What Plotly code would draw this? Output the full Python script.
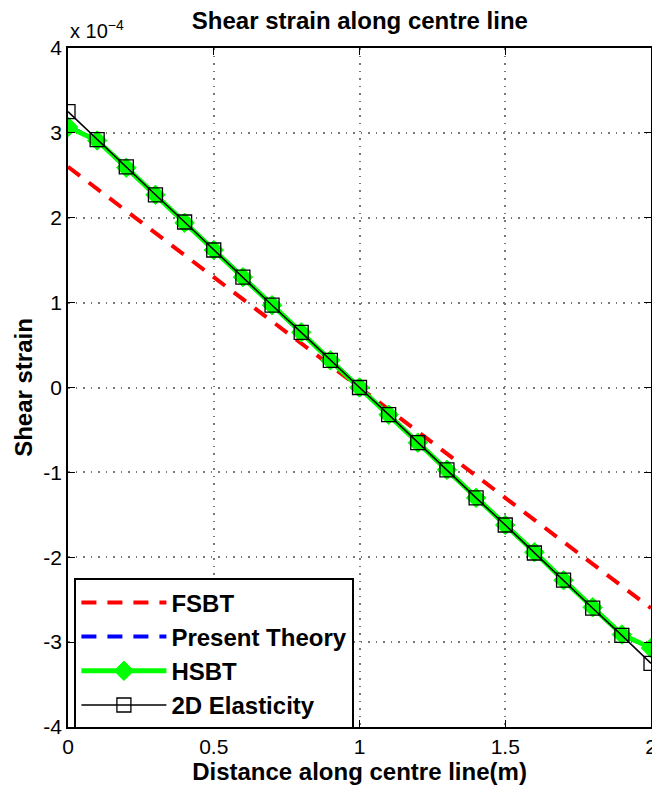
import plotly.graph_objects as go

# Position along the centre line (m)
distance = [0.0, 0.1, 0.2, 0.3, 0.4, 0.5, 0.6, 0.7, 0.8, 0.9, 1.0,
            1.1, 1.2, 1.3, 1.4, 1.5, 1.6, 1.7, 1.8, 1.9, 2.0]

# Shear strain, in units of 1e-4
fsbt = [2.60, 2.34, 2.08, 1.82, 1.56, 1.30, 1.04, 0.78, 0.52, 0.26, 0.0,
        -0.26, -0.52, -0.78, -1.04, -1.30, -1.56, -1.82, -2.08, -2.34, -2.60]
present_theory = [3.08, 2.91, 2.59, 2.27, 1.94, 1.62, 1.30, 0.97, 0.65, 0.32, 0.0,
                  -0.32, -0.65, -0.97, -1.30, -1.62, -1.94, -2.27, -2.59, -2.91, -3.08]
hsbt = [3.07, 2.91, 2.59, 2.27, 1.94, 1.62, 1.30, 0.97, 0.65, 0.32, 0.0,
        -0.32, -0.65, -0.97, -1.30, -1.62, -1.94, -2.27, -2.59, -2.91, -3.07]
elasticity_2d = [3.25, 2.92, 2.60, 2.27, 1.95, 1.62, 1.30, 0.97, 0.65, 0.32, 0.0,
                 -0.32, -0.65, -0.97, -1.30, -1.62, -1.95, -2.27, -2.60, -2.92, -3.25]

x_ticks = [0, 0.5, 1, 1.5, 2]
x_tick_text = ["0", "0.5", "1", "1.5", "2"]
y_ticks = [-4, -3, -2, -1, 0, 1, 2, 3, 4]
y_tick_text = ["-4", "-3", "-2", "-1", "0", "1", "2", "3", "4"]

FONT = "Liberation Sans, Arial, Helvetica, sans-serif"

fig = go.Figure()
fig.add_trace(go.Scatter(
    x=distance, y=fsbt, name="<b>FSBT</b>", mode="lines", legendgroup="a",
    line=dict(color="#ff0000", width=4, dash="15px,11px")))
fig.add_trace(go.Scatter(
    x=distance, y=present_theory, name="<b>Present Theory</b>", mode="lines", legendgroup="b",
    line=dict(color="#0000ff", width=4, dash="15px,11px")))
fig.add_trace(go.Scatter(
    x=distance, y=hsbt, name="<b>HSBT</b>", mode="lines+markers", legendgroup="c",
    line=dict(color="#00ff00", width=5),
    marker=dict(symbol="diamond", size=15, color="#00ff00",
                line=dict(color="#00ff00", width=1))))
fig.add_trace(go.Scatter(
    x=distance, y=elasticity_2d, name="<b>2D Elasticity</b>", mode="lines+markers", legendgroup="d",
    line=dict(color="black", width=1.5),
    marker=dict(symbol="square-open", size=14, color="black",
                line=dict(color="black", width=1.3))))

axis_common = dict(
    showline=True, linecolor="black", linewidth=1.5, mirror="allticks",
    ticks="inside", ticklen=7, tickwidth=1.2, tickcolor="black",
    showgrid=True, gridcolor="#777777", griddash="1.5px,6px", gridwidth=1.5,
    zeroline=False, tickfont=dict(family=FONT, size=21, color="black"),
    ticklabeloverflow="allow", automargin=False,
)

fig.update_layout(
    width=652, height=788,
    margin=dict(l=68, r=1, t=48, b=61, autoexpand=False),
    paper_bgcolor="white", plot_bgcolor="white",
    font=dict(family=FONT, color="black"),
    title=dict(text="<b>Shear strain along centre line</b>",
               x=0.552, xanchor="center", y=0.974, yanchor="middle",
               font=dict(family=FONT, size=24, color="black")),
    xaxis=dict(range=[0, 2], tickvals=x_ticks, ticktext=x_tick_text,
               title=dict(text="<b>Distance along centre line(m)</b>", standoff=2,
                          font=dict(family=FONT, size=24, color="black")),
               **axis_common),
    yaxis=dict(range=[-4, 4], tickvals=y_ticks, ticktext=y_tick_text,
               title=dict(text="<b>Shear strain</b>", standoff=4,
                          font=dict(family=FONT, size=24, color="black")),
               **axis_common),
    legend=dict(x=0.011, xanchor="left", y=0.219, yanchor="top",
                bgcolor="white", bordercolor="black", borderwidth=2,
                itemwidth=85, tracegroupgap=6,
                font=dict(family=FONT, size=24, color="black"),
                traceorder="normal"),
    annotations=[dict(text="x 10<sup>−4</sup>", xref="paper", yref="paper",
                      x=0.0, y=1.0, xanchor="left", yanchor="bottom", yshift=4,
                      showarrow=False,
                      font=dict(family=FONT, size=20, color="black"))],
)

fig.write_html("out.html")
